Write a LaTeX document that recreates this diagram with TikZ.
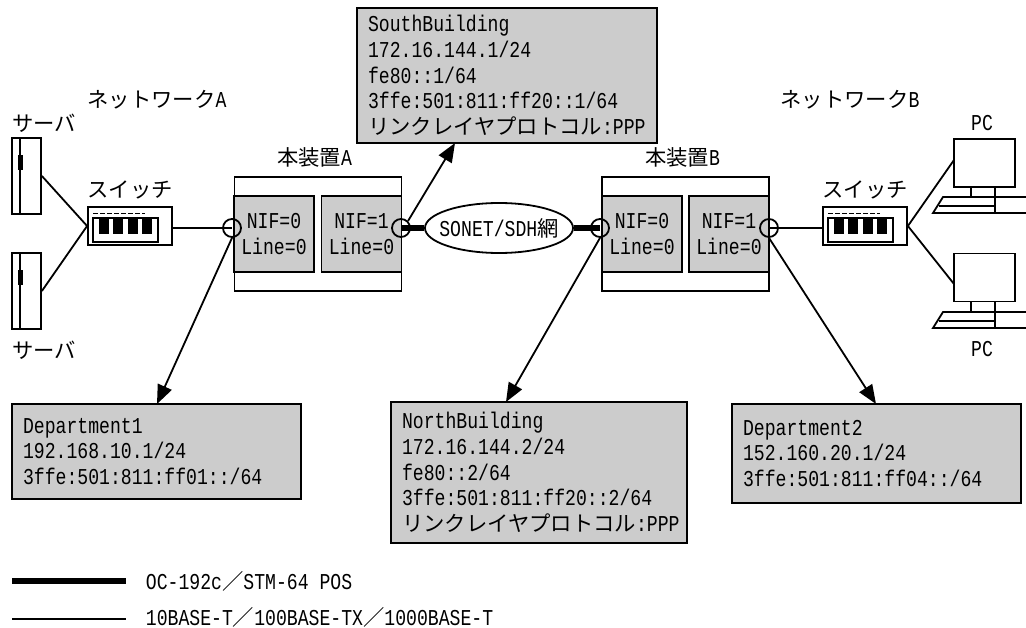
\documentclass[tikz,border=0pt]{standalone}
\usepackage{fontspec}
\setmainfont[FakeStretch=0.8]{Liberation Mono}
\newfontfamily\cjk{Noto Sans CJK JP}
\usetikzlibrary{arrows.meta,shapes.geometric}

\def\px{0.75pt}
\newcommand{\jp}[1]{{\fontsize{16}{19.3}\cjk #1}}

\begin{document}
\begin{tikzpicture}
[x=0.75pt,y=-0.75pt,
line width=1.8*\px,
every node/.style={
  font=\fontsize{17}{19.3}\selectfont,inner sep=0pt
},
server/.style={
  draw,minimum width=29*\px,minimum height=76*\px
},
switchbox/.style={
  draw,minimum width=84*\px,minimum height=38*\px
},
switchport/.style={
  draw,minimum width=65*\px,minimum height=24*\px
},
portblock/.style={
  fill=black,minimum width=10*\px,minimum height=15*\px
},
device/.style={
  draw,minimum width=167*\px,minimum height=114*\px
},
nif/.style={
  draw,fill=black!20,minimum width=80*\px,minimum height=76*\px,align=center
},
portmark/.style={
  draw,circle,minimum size=18*\px
},
monitor/.style={
  draw,minimum width=61*\px,minimum height=48*\px
},
infobox/.style={
  draw,fill=black!20,inner xsep=11*\px,align=left
},
link/.style={
  -{Triangle[length=19*\px,width=15*\px]}
},
posline/.style={
  line width=6*\px
}
]
\useasboundingbox (0,0) rectangle (1026,628);

% Network A
\node (netA) at (157,100) {\jp{ネットワーク}A};
\node (serverlabel1) at (44,123) {\jp{サーバ}};
\node[server] (server1) at (26.5,176) {};
\draw (20,138) -- (20,214);
\node[portblock,minimum width=5*\px] (serverbar1) at (20.5,162.5) {};
\node[server] (server2) at (26.5,291) {};
\draw (20,253) -- (20,329);
\node[portblock,minimum width=5*\px] (serverbar2) at (20.5,277.5) {};
\node (serverlabel2) at (44,350) {\jp{サーバ}};

% Switch A
\node (switchlabelA) at (130,190) {\jp{スイッチ}};
\node[switchbox] (switchA) at (130,226) {};
\node[switchport] (innerA) at (125.5,230) {};
\node[portblock] at (104,226.5) {};
\node[portblock] at (118,226.5) {};
\node[portblock] at (133,226.5) {};
\node[portblock] at (147,226.5) {};
\draw[dash pattern=on 5*\px off 2*\px,line width=1*\px] (93,213) -- (145,213);
\draw (server1.east) -- (switchA.west);
\draw (server2.east) -- (switchA.west);

% Device A
\node (deviceAlabel) at (314.5,157) {\jp{本装置}A};
\node[device] (deviceA) at (318,234) {};
\node[nif] (nifA0) at (274,234) {NIF=0\\Line=0};
\node[nif] (nifA1) at (361.5,234) {NIF=1\\Line=0};
\node[portmark] (portA0) at (232,228) {};
\node[portmark] (portA1) at (401,228) {};
\draw (switchA.east |- portA0) -- (portA0.center);

% SONET
\node[draw,ellipse,fill=white,minimum width=148*\px,minimum height=50*\px] (sonet) at (499,228) {};
\node (sonetlabel) at (499,228) {SONET/SDH\jp{網}};

% Device B
\node (deviceBlabel) at (682.5,157) {\jp{本装置}B};
\node[device] (deviceB) at (685.5,234) {};
\node[nif] (nifB0) at (642,234) {NIF=0\\Line=0};
\node[nif] (nifB1) at (729,234) {NIF=1\\Line=0};
\node[portmark] (portB0) at (600,228) {};
\node[portmark] (portB1) at (769,228) {};
\draw[posline] (portA1.center) -- (sonet);
\draw[posline] (sonet) -- (portB0.center);

% Switch B
\node (netB) at (850,100) {\jp{ネットワーク}B};
\node (switchlabelB) at (865,190) {\jp{スイッチ}};
\node[switchbox] (switchB) at (865,226) {};
\node[switchport] (innerB) at (860.5,230) {};
\node[portblock] at (839,226.5) {};
\node[portblock] at (853,226.5) {};
\node[portblock] at (868,226.5) {};
\node[portblock] at (882,226.5) {};
\draw[dash pattern=on 5*\px off 2*\px,line width=1*\px] (828,213) -- (880,213);
\draw (portB1.center) -- (switchB.west |- portB1);

% PCs
\node (pclabel1) at (982,123) {PC};
\node[monitor] (pc1) at (984.5,163) {};
\draw (971,187) -- (971,197) (995,187) -- (995,213);
\draw (1026,197) -- (943,197) -- (933,213) -- (1026,213) (939,206) -- (995,206);
\node[monitor] (pc2) at (984.5,277.5) {};
\draw (971,302) -- (971,312) (995,302) -- (995,328);
\draw (1026,312) -- (943,312) -- (933,328) -- (1026,328) (939,321) -- (995,321);
\node (pclabel2) at (982,349) {PC};
\coordinate (pc1in) at (954,160);
\coordinate (pc2in) at (954,284);
\draw (switchB.east) -- (pc1in);
\draw (switchB.east) -- (pc2in);

% Information boxes
\node[infobox,text width=278*\px,minimum height=135*\px] (south) at (507,75.5) {SouthBuilding\\172.16.144.1/24\\fe80::1/64\\3ffe:501:811:ff20::1/64\\\jp{リンクレイヤプロトコル}:PPP};
\node[infobox,text width=267*\px,minimum height=95*\px] (dept1) at (156.5,451.5) {Department1\\192.168.10.1/24\\3ffe:501:811:ff01::/64};
\node[infobox,text width=274*\px,minimum height=141*\px] (north) at (539,472.5) {NorthBuilding\\172.16.144.2/24\\fe80::2/64\\3ffe:501:811:ff20::2/64\\\jp{リンクレイヤプロトコル}:PPP};
\node[infobox,text width=267*\px,minimum height=99*\px] (dept2) at (876.5,453.5) {Department2\\152.160.20.1/24\\3ffe:501:811:ff04::/64};

% Arrows to the boxes
\coordinate (southin) at (455,143);
\coordinate (dept1in) at (157,404);
\coordinate (northin) at (506,402);
\coordinate (dept2in) at (876,404);
\draw[link] (portA1.north east) -- (southin);
\draw[link] (portA0.south) -- (dept1in);
\draw[link] (portB0.south) -- (northin);
\draw[link] (portB1.south) -- (dept2in);

% Legend
\coordinate (thickstart) at (12,581);
\coordinate (thickend) at (126,581);
\coordinate (thinstart) at (12,619);
\coordinate (thinend) at (126,619);
\draw[posline] (thickstart) -- (thickend);
\draw (thinstart) -- (thinend);
\node[anchor=west] (legendthick) at (145,581) {OC-192c\jp{／}STM-64 POS};
\node[anchor=west] (legendthin) at (145,617) {10BASE-T\jp{／}100BASE-TX\jp{／}1000BASE-T};

\end{tikzpicture}
\end{document}
